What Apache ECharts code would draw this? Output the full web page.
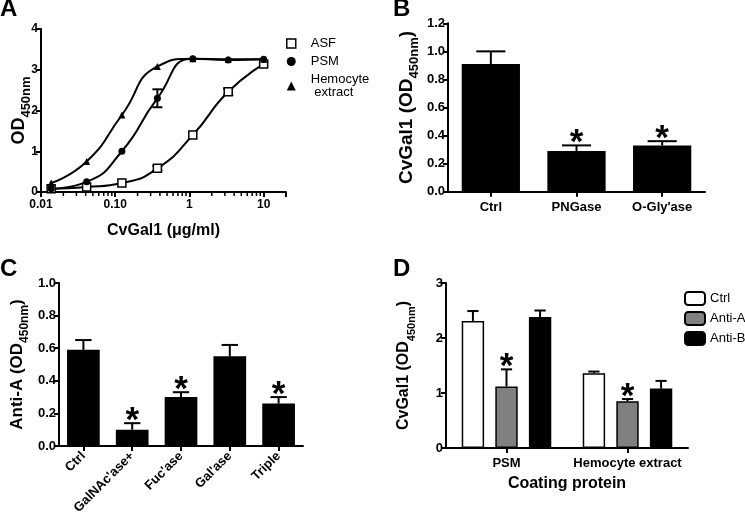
<!DOCTYPE html>
<html><head><meta charset="utf-8">
<script src="https://cdn.jsdelivr.net/npm/echarts@6/dist/echarts.min.js"></script>
<style>html,body{margin:0;padding:0;background:#fff}#c{width:745px;height:521px}</style>
</head><body><div id="c"></div>
<script>
const FONT = '"Liberation Sans", Arial, Helvetica, sans-serif';
// ---------- Panel A ----------
const concA = [0.0137, 0.0412, 0.123, 0.37, 1.11, 3.33, 10];
const asfA = [0.08, 0.12, 0.22, 0.58, 1.40, 2.46, 3.14];
const asfErrA = [0, 0, 0, 0.06, 0, 0.08, 0];
const psmA = [0.08, 0.25, 1.00, 2.30, 3.27, 3.24, 3.26];
const psmErrA = [0, 0, 0, 0.22, 0, 0, 0];
const hemoA = [0.22, 0.75, 1.89, 3.08, 3.27, 3.26, 3.26];
const xTickValuesA = [0.01, 0.1, 1, 10];
const xTickLabelsA = ['0.01', '0.10', '1', '10'];
const minorTicksA = [0.02,0.03,0.04,0.05,0.06,0.07,0.08,0.09,0.2,0.3,0.4,0.5,0.6,0.7,0.8,0.9,2,3,4,5,6,7,8,9,20];
// ---------- Panel B ----------
const catsB = ['Ctrl', 'PNGase', "O-Gly'ase"];
const valB = [0.91, 0.29, 0.33];
const errB = [0.09, 0.04, 0.03];
const sigB = [0, 1, 1];
// ---------- Panel C ----------
const catsC = ['Ctrl', "GalNAc'ase+", "Fuc'ase", "Gal'ase", 'Triple'];
const valC = [0.59, 0.10, 0.30, 0.55, 0.26];
const errC = [0.06, 0.04, 0.03, 0.07, 0.04];
const sigC = [0, 1, 1, 0, 1];
// ---------- Panel D ----------
const catsD = ['PSM', 'Hemocyte extract'];
const ctrlD = [2.31, 1.36];
const ctrlErrD = [0.18, 0.03];
const antiAD = [1.12, 0.85];
const antiAErrD = [0.31, 0.04];
const antiASigD = [1, 1];
const antiBD = [2.38, 1.08];
const antiBErrD = [0.12, 0.14];

const BLACK = '#000';
const axisLine = {show: true, onZero: false, lineStyle: {color: BLACK, width: 2}};
const axisTick = {show: true, length: 5, lineStyle: {color: BLACK, width: 2}};
function lbl(size, extra) { return Object.assign({color: BLACK, fontWeight: 'bold', fontSize: size, fontFamily: FONT, margin: 3}, extra || {}); }
function odName(prefix) { return '{m|' + prefix + 'OD}{s|450nm}{m|' + (prefix ? ')' : '') + '}'; }
function nameStyle(big, small) {
  return {color: BLACK, fontFamily: FONT, fontWeight: 'bold', fontSize: big,
    rich: {m: {fontSize: big, fontWeight: 'bold', fontFamily: FONT, color: BLACK, verticalAlign: 'top', lineHeight: big},
           s: {fontSize: small, fontWeight: 'bold', fontFamily: FONT, color: BLACK, verticalAlign: 'bottom', lineHeight: big + 5}}};
}
function zip(a, b) { return a.map((v, i) => [v, b[i]]); }

function errRender(idx, nBars, barFrac, gapFrac) {
  return function (params, api) {
    const cat = api.value(0), v = api.value(1), e = api.value(2), sig = api.value(3);
    const base = api.coord([cat, v]);
    const top = api.coord([cat, v + e]);
    const band = api.size([1, 0])[0];
    const w = band * barFrac;
    const total = nBars * w + (nBars - 1) * gapFrac * w;
    const x = base[0] - total / 2 + w / 2 + idx * (w + gapFrac * w);
    const cap = w * 0.5;
    const ch = [];
    if (e > 0) {
      ch.push({type: 'line', shape: {x1: x, y1: base[1], x2: x, y2: top[1]}, style: {stroke: BLACK, lineWidth: 2}});
      ch.push({type: 'line', shape: {x1: x - cap / 2, y1: top[1], x2: x + cap / 2, y2: top[1]}, style: {stroke: BLACK, lineWidth: 2}});
    }
    if (sig) ch.push({type: 'text', x: x, y: top[1] - 2, style: {text: '*', fontSize: 35, fontWeight: 'bold', fontFamily: FONT, fill: BLACK, align: 'center', verticalAlign: 'middle'}});
    return {type: 'group', children: ch};
  };
}
function errRows(vals, errs, sigs) { return vals.map((v, i) => [i, v, errs[i], sigs ? sigs[i] : 0]); }

function pointErrRender(params, api) {
  const x = api.value(0), y = api.value(1), e = api.value(2);
  if (!(e > 0)) return null;
  const lo = api.coord([x, y - e]), hi = api.coord([x, y + e]);
  return {type: 'group', children: [
    {type: 'line', shape: {x1: lo[0], y1: lo[1], x2: hi[0], y2: hi[1]}, style: {stroke: BLACK, lineWidth: 2}},
    {type: 'line', shape: {x1: hi[0] - 5, y1: hi[1], x2: hi[0] + 5, y2: hi[1]}, style: {stroke: BLACK, lineWidth: 2}},
    {type: 'line', shape: {x1: lo[0] - 5, y1: lo[1], x2: lo[0] + 5, y2: lo[1]}, style: {stroke: BLACK, lineWidth: 2}}
  ]};
}
function minorTickRender(params, api) {
  const p = api.coord([api.value(0), 0]);
  return {type: 'line', shape: {x1: p[0], y1: p[1], x2: p[0], y2: p[1] + 4}, style: {stroke: BLACK, lineWidth: 1.5}};
}

const chart = echarts.init(document.getElementById('c'), null, {renderer: 'canvas'});
const titleStyle = {color: BLACK, fontSize: 24, fontWeight: 'bold', fontFamily: FONT};
const option = {
  animation: false,
  backgroundColor: '#fff',
  title: [
    {text: 'A', left: 0, top: -3, padding: 0, textStyle: titleStyle},
    {text: 'B', left: 393, top: -3, padding: 0, textStyle: titleStyle},
    {text: 'C', left: 0, top: 257, padding: 0, textStyle: titleStyle},
    {text: 'D', left: 393, top: 257, padding: 0, textStyle: titleStyle}
  ],
  legend: [
    {orient: 'vertical', left: 281, top: 32, itemWidth: 9, itemHeight: 9, itemGap: 5,
     textStyle: {color: BLACK, fontSize: 13, fontFamily: FONT, padding: [0, 0, 0, 10]},
     data: [
       {name: 'ASF', icon: 'rect', itemStyle: {color: '#fff', borderColor: BLACK, borderWidth: 1.5}},
       {name: 'PSM', icon: 'circle', itemStyle: {color: BLACK}},
       {name: 'Hemocyte\n extract', icon: 'triangle', itemStyle: {color: BLACK}}
     ]},
    {orient: 'vertical', left: 679, top: 286, itemWidth: 20, itemHeight: 13, itemGap: 5,
     textStyle: {color: BLACK, fontSize: 13, fontFamily: FONT, padding: [0, 0, 0, 0]},
     data: ['Ctrl', 'Anti-A', 'Anti-B']}
  ],
  grid: [
    {left: 41, top: 29, width: 245, height: 163},
    {left: 448, top: 23.3, width: 257, height: 168.4},
    {left: 59, top: 283, width: 244, height: 163},
    {left: 446, top: 283, width: 242, height: 165}
  ],
  xAxis: [
    {gridIndex: 0, type: 'log', logBase: 10, min: 0.01, max: 20, axisLine, axisTick, splitLine: {show: false},
     axisLabel: lbl(12, {margin: 7, formatter: function (v) {
       for (let i = 0; i < xTickValuesA.length; i++) if (Math.abs(Math.log10(v) - Math.log10(xTickValuesA[i])) < 1e-6) return xTickLabelsA[i];
       return '';
     }}),
     name: 'CvGal1 (μg/ml)', nameLocation: 'middle', nameGap: 31,
     nameTextStyle: {color: BLACK, fontWeight: 'bold', fontSize: 16, fontFamily: FONT}},
    {gridIndex: 1, type: 'category', data: catsB, axisLine, axisTick: Object.assign({alignWithLabel: true}, axisTick),
     axisLabel: lbl(13, {margin: 9, interval: 0})},
    {gridIndex: 2, type: 'category', data: catsC, axisLine, axisTick: Object.assign({alignWithLabel: true}, axisTick),
     axisLabel: lbl(13, {margin: 8, rotate: 45, interval: 0})},
    {gridIndex: 3, type: 'category', data: catsD, axisLine, axisTick: Object.assign({alignWithLabel: true}, axisTick),
     axisLabel: lbl(13, {margin: 9, interval: 0}),
     name: 'Coating protein', nameLocation: 'middle', nameGap: 28,
     nameTextStyle: {color: BLACK, fontWeight: 'bold', fontSize: 16, fontFamily: FONT}}
  ],
  yAxis: [
    {gridIndex: 0, type: 'value', min: 0, max: 4, interval: 1, axisLine, axisTick, splitLine: {show: false},
     axisLabel: lbl(12), name: odName(''), nameLocation: 'middle', nameGap: 8, nameMoveOverlap: false, nameTextStyle: nameStyle(18, 13)},
    {gridIndex: 1, type: 'value', min: 0, max: 1.2, interval: 0.2, axisLine, axisTick, splitLine: {show: false},
     axisLabel: lbl(13, {formatter: v => v.toFixed(1)}), name: odName('CvGal1 ('), nameLocation: 'middle', nameGap: 27, nameMoveOverlap: false, nameTextStyle: nameStyle(19, 13)},
    {gridIndex: 2, type: 'value', min: 0, max: 1.0, interval: 0.2, axisLine, axisTick, splitLine: {show: false},
     axisLabel: lbl(13, {formatter: v => v.toFixed(1)}), name: odName('Anti-A ('), nameLocation: 'middle', nameGap: 28, nameMoveOverlap: false, nameTextStyle: nameStyle(17, 12)},
    {gridIndex: 3, type: 'value', min: 0, max: 3, interval: 1, axisLine, axisTick, splitLine: {show: false},
     axisLabel: lbl(13), name: odName('CvGal1 ('), nameLocation: 'middle', nameGap: 29, nameMoveOverlap: false, nameTextStyle: nameStyle(16, 11)}
  ],
  series: [
    // Panel A
    {type: 'custom', xAxisIndex: 0, yAxisIndex: 0, data: minorTicksA.map(v => [v]), renderItem: minorTickRender, clip: false, silent: true, encode: {x: 0}},
    {type: 'custom', xAxisIndex: 0, yAxisIndex: 0, data: concA.map((c, i) => [c, psmA[i], psmErrA[i]]), renderItem: pointErrRender, silent: true, z: 3},
    {type: 'custom', xAxisIndex: 0, yAxisIndex: 0, data: concA.map((c, i) => [c, asfA[i], asfErrA[i]]), renderItem: pointErrRender, silent: true, z: 3},
    {name: 'ASF', type: 'line', xAxisIndex: 0, yAxisIndex: 0, data: zip(concA, asfA), smooth: 0.55,
     symbol: 'rect', symbolSize: 8, showAllSymbol: true, lineStyle: {color: BLACK, width: 2},
     itemStyle: {color: '#fff', borderColor: BLACK, borderWidth: 1.5}, z: 4},
    {name: 'PSM', type: 'line', xAxisIndex: 0, yAxisIndex: 0, data: zip(concA, psmA), smooth: 0.55,
     symbol: 'circle', symbolSize: 7, showAllSymbol: true, lineStyle: {color: BLACK, width: 2},
     itemStyle: {color: BLACK}, z: 4},
    {name: 'Hemocyte\n extract', type: 'line', xAxisIndex: 0, yAxisIndex: 0, data: zip(concA, hemoA), smooth: 0.55,
     symbol: 'triangle', symbolSize: 7, showAllSymbol: true, lineStyle: {color: BLACK, width: 2},
     itemStyle: {color: BLACK}, z: 4},
    // Panel B
    {type: 'bar', xAxisIndex: 1, yAxisIndex: 1, data: valB, barWidth: '68%', itemStyle: {color: BLACK}},
    {type: 'custom', xAxisIndex: 1, yAxisIndex: 1, data: errRows(valB, errB, sigB), renderItem: errRender(0, 1, 0.68, 0), clip: false, z: 5, encode: {x: 0, y: 1}},
    // Panel C
    {type: 'bar', xAxisIndex: 2, yAxisIndex: 2, data: valC, barWidth: '67%', itemStyle: {color: BLACK}},
    {type: 'custom', xAxisIndex: 2, yAxisIndex: 2, data: errRows(valC, errC, sigC), renderItem: errRender(0, 1, 0.67, 0), clip: false, z: 5, encode: {x: 0, y: 1}},
    // Panel D
    {name: 'Ctrl', type: 'bar', xAxisIndex: 3, yAxisIndex: 3, data: ctrlD, barWidth: '18.5%', barGap: '50%',
     itemStyle: {color: '#fff', borderColor: BLACK, borderWidth: 1.5}},
    {name: 'Anti-A', type: 'bar', xAxisIndex: 3, yAxisIndex: 3, data: antiAD, barWidth: '18.5%', barGap: '50%',
     itemStyle: {color: '#808080', borderColor: BLACK, borderWidth: 1.5}},
    {name: 'Anti-B', type: 'bar', xAxisIndex: 3, yAxisIndex: 3, data: antiBD, barWidth: '18.5%', barGap: '50%',
     itemStyle: {color: BLACK, borderColor: BLACK, borderWidth: 1.5}},
    {type: 'custom', xAxisIndex: 3, yAxisIndex: 3, data: errRows(ctrlD, ctrlErrD, null), renderItem: errRender(0, 3, 0.185, 0.5), clip: false, z: 5, encode: {x: 0, y: 1}},
    {type: 'custom', xAxisIndex: 3, yAxisIndex: 3, data: errRows(antiAD, antiAErrD, antiASigD), renderItem: errRender(1, 3, 0.185, 0.5), clip: false, z: 5, encode: {x: 0, y: 1}},
    {type: 'custom', xAxisIndex: 3, yAxisIndex: 3, data: errRows(antiBD, antiBErrD, null), renderItem: errRender(2, 3, 0.185, 0.5), clip: false, z: 5, encode: {x: 0, y: 1}}
  ]
};
chart.setOption(option);
</script>
</body></html>
